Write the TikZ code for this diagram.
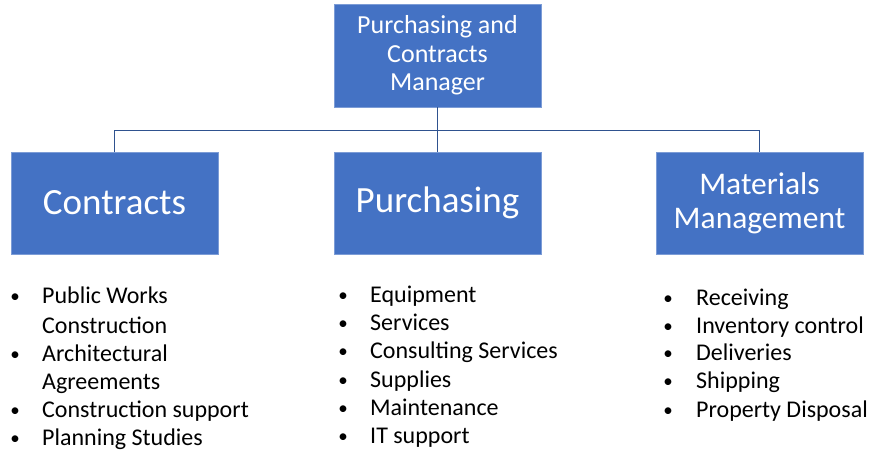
\documentclass[tikz,border=0pt]{standalone}
\usepackage{fontspec}
\setmainfont{Carlito}
\definecolor{boxblue}{HTML}{4472C4}
\definecolor{connblue}{HTML}{2F528F}
\begin{document}
\begin{tikzpicture}[x=1pt,y=-1pt,
  box/.style={fill=boxblue,draw=boxblue!70!white,line width=0.4pt,minimum width=207pt,inner sep=0pt,align=center,text=white},
  conn/.style={draw=connblue,line width=0.9pt},
  item/.style={anchor=base west,inner sep=0pt,font=\fontsize{24}{28}\selectfont},
  bul/.style={anchor=base,inner sep=0pt,font=\fontsize{19}{22}\selectfont}]
\useasboundingbox (0,0) rectangle (870,455);
\node[box,minimum height=103pt,font=\fontsize{26}{28.5}\selectfont] (top) at (437.5,55.5) {Purchasing and\\Contracts\\Manager};
\node[box,minimum height=102pt,font=\fontsize{37}{42}\selectfont] (contracts) at (114.5,203) {Contracts};
\node[box,minimum height=102pt,font=\fontsize{37}{42}\selectfont] (purch) at (437.5,203) {Purchasing};
\node[box,minimum height=102pt,font=\fontsize{31.5}{34}\selectfont] (mat) at (759.5,203) {Materials\\Management};
\draw[conn] (top.south) -- ++(0,23) coordinate (hub);
\draw[conn] (contracts.north) |- (hub) -| (mat.north);
\draw[conn] (hub) -- (purch.north);
% left column
\foreach \y in {303,361,417,445} \node[bul] (lb\y) at (15,\y-1) {•};
\node[item] (l1) at (42,303) {Public Works};
\node[item] (l2) at (42,333) {Construction};
\node[item] (l3) at (42,361) {Architectural};
\node[item] (l4) at (42,389) {Agreements};
\node[item] (l5) at (42,417) {Construction support};
\node[item] (l6) at (42,445) {Planning Studies};
% middle column
\foreach \y in {302,330,358,387,415,443} \node[bul] (mb\y) at (343,\y-1) {•};
\node[item] (m1) at (370,302) {Equipment};
\node[item] (m2) at (370,330) {Services};
\node[item] (m3) at (370,358) {Consulting Services};
\node[item] (m4) at (370,387) {Supplies};
\node[item] (m5) at (370,415) {Maintenance};
\node[item] (m6) at (370,443) {IT support};
% right column
\foreach \y in {305,333,360,388,417} \node[bul] (rb\y) at (668,\y-1) {•};
\node[item] (r1) at (696,305) {Receiving};
\node[item] (r2) at (696,333) {Inventory control};
\node[item] (r3) at (696,360) {Deliveries};
\node[item] (r4) at (696,388) {Shipping};
\node[item] (r5) at (696,417) {Property Disposal};
\end{tikzpicture}
\end{document}
